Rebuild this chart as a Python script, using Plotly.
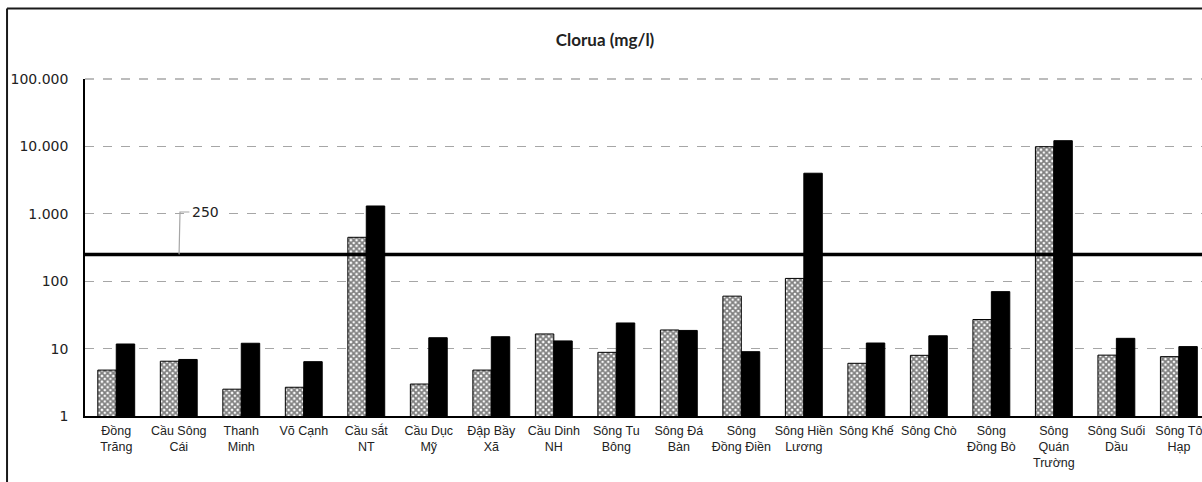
import plotly.graph_objects as go

categories = ["Đồng<br>Trăng", "Cầu Sông<br>Cái", "Thanh<br>Minh", "Võ Cạnh", "Cầu sắt<br>NT",
              "Cầu Dục<br>Mỹ", "Đập Bầy<br>Xã", "Cầu Dinh<br>NH", "Sông Tu<br>Bông", "Sông Đá<br>Bàn",
              "Sông<br>Đồng Điền", "Sông Hiền<br>Lương", "Sông Khế", "Sông Chò", "Sông<br>Đồng Bò",
              "Sông<br>Quán<br>Trường", "Sông Suối<br>Dầu", "Sông Tô<br>Hạp"]
series_hatched = [4.8, 6.5, 2.5, 2.67, 448, 2.98, 4.8, 16.5, 8.8, 18.9, 60, 110, 6.05, 7.95, 27, 9900, 8.0, 7.6]
series_black = [11.7, 6.9, 12.0, 6.4, 1306, 14.5, 15, 13, 24, 18.6, 9.0, 4000, 12.1, 15.5, 70, 12150, 14.2, 10.7]
limit_value = 250
y_tickvals = [1, 10, 100, 1000, 10000, 100000]
y_ticktext = ["1", "10", "100", "1.000", "10.000", "100.000"]
title_text = "Clorua (mg/l)"

xs = list(range(len(categories)))

fig = go.Figure()
fig.add_trace(go.Bar(
    x=xs, y=series_hatched,
    marker=dict(color="white", line=dict(color="black", width=1),
                pattern=dict(shape="x", fgcolor="#000000", bgcolor="white", size=4, solidity=0.7)),
    showlegend=False, hoverinfo="skip"))
fig.add_trace(go.Bar(
    x=xs, y=series_black,
    marker=dict(color="black", line=dict(color="black", width=1)),
    showlegend=False, hoverinfo="skip"))

# limit line
fig.add_trace(go.Scatter(x=[-0.5, len(categories) - 0.5], y=[limit_value, limit_value],
                         mode="lines", line=dict(color="black", width=3.5),
                         showlegend=False, hoverinfo="skip"))
# leader line for label
fig.add_trace(go.Scatter(x=[1.005, 1.02, 1.17], y=[limit_value, 1064, 1064],
                         mode="lines", line=dict(color="#a6a6a6", width=1.2),
                         showlegend=False, hoverinfo="skip"))
fig.add_annotation(x=1.43, y=3.027, xref="x", yref="y", text=str(limit_value), showarrow=False,
                   font=dict(family="DejaVu Sans", size=14, color="#222"),
                   bgcolor="white", borderpad=1)

# top gridline (100.000)
fig.add_shape(type="line", xref="paper", yref="paper", x0=0, x1=1, y0=1, y1=1, layer="below",
              line=dict(color="#a6a6a6", width=1.3, dash="dash"))

# chart border (top and left)
fig.add_shape(type="line", xref="paper", yref="paper", x0=-0.0698, x1=1.05, y0=1.209, y1=1.209,
              line=dict(color="#1a1a1a", width=2))
fig.add_shape(type="line", xref="paper", yref="paper", x0=-0.0698, x1=-0.0698, y0=-0.3, y1=1.209,
              line=dict(color="#1a1a1a", width=2))

fig.update_layout(
    width=1202, height=482,
    margin=dict(l=85, r=0, t=79, b=66),
    paper_bgcolor="white", plot_bgcolor="white",
    barmode="group", bargap=0.41, bargroupgap=0,
    title=dict(text="<b>" + title_text + "</b>", x=605 / 1202, xref="container", xanchor="center",
               y=1 - 40 / 482, yref="container", yanchor="middle",
               font=dict(family="Lato, Liberation Sans", size=17, color="#222")),
    font=dict(family="Liberation Sans, Arial", color="#222"),
)
fig.update_xaxes(range=[-0.5, 17.37], tickvals=xs, ticktext=categories, showgrid=False,
                 showline=True, linecolor="black", linewidth=1.5, ticks="",
                 tickfont=dict(size=12.5), tickangle=0, zeroline=False, ticklabelstandoff=2,
                 ticklabeloverflow="allow")
fig.update_yaxes(type="log", range=[0, 5], tickvals=y_tickvals, ticktext=y_ticktext,
                 showgrid=True, gridcolor="#a6a6a6", gridwidth=1.3, griddash="dash",
                 showline=True, linecolor="black", linewidth=1.5, ticks="",
                 ticklabelstandoff=12, tickfont=dict(family="DejaVu Sans", size=14), zeroline=False)

fig.write_html("out.html")
